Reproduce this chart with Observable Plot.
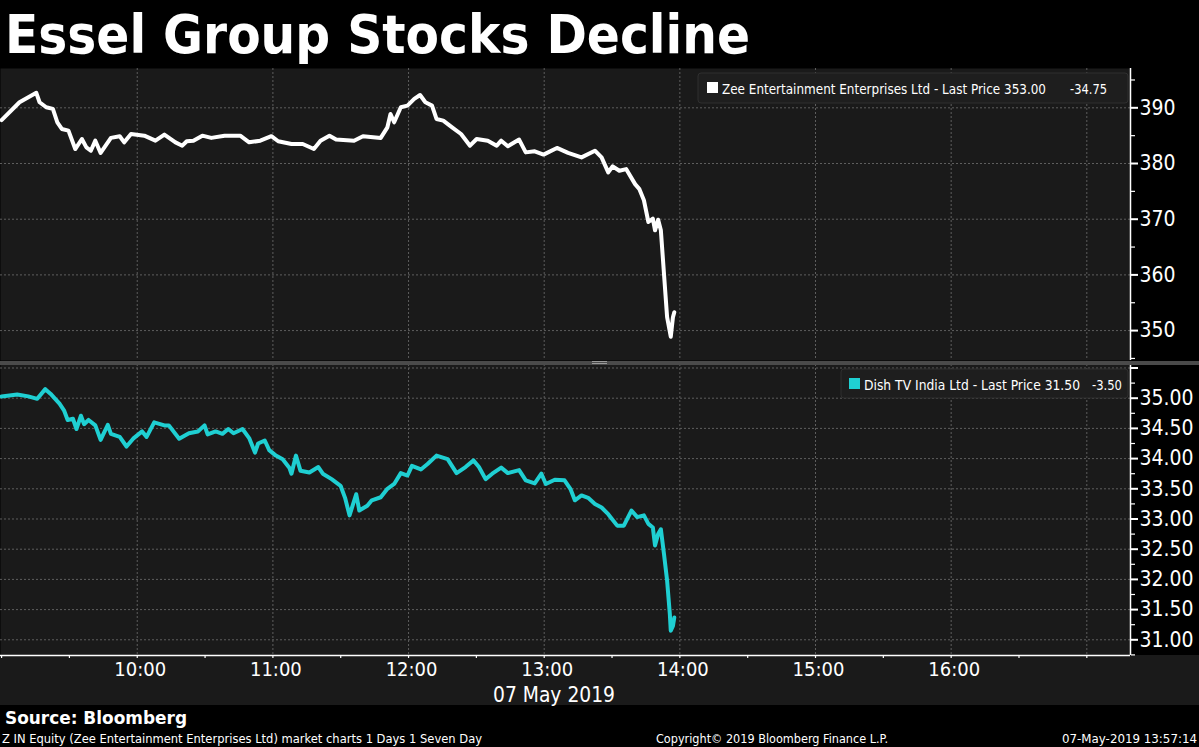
<!DOCTYPE html>
<html>
<head>
<meta charset="utf-8">
<script src="https://cdn.jsdelivr.net/npm/d3@7"></script>
<script src="https://cdn.jsdelivr.net/npm/@observablehq/plot@0.6"></script>
<style>
  html, body { margin: 0; padding: 0; background: #000; }
  #root { position: relative; width: 1199px; height: 747px; overflow: hidden; background: #000; }
  #top, #bottom { position: absolute; left: 0; }
  #top { top: 68px; }
  #bottom { top: 364px; }
  #xstrip { position: absolute; left: 0; top: 655px; width: 1199px; height: 50px; background: #1a1a1a; }
  #sep { position: absolute; left: 0; top: 360.5px; width: 1199px; height: 4px; background: #4a4a4a; }
  #handle { position: absolute; left: 592px; top: 361px; width: 15px; height: 3px; border-top: 1px solid #9a9a9a; border-bottom: 1px solid #9a9a9a; box-sizing: border-box; }
  #overlay { position: absolute; left: 0; top: 0; pointer-events: none; }
  svg { display: block; }
</style>
</head>
<body>
<div id="root">
  <div id="xstrip"></div>
  <div id="top"></div>
  <div id="bottom"></div>
  <div id="sep"></div>
  <div id="handle"></div>
  <svg id="overlay" width="1199" height="747">
    <text x="5" y="53" fill="#fff" font-family="DejaVu Sans" font-weight="bold" font-size="53" textLength="745" lengthAdjust="spacingAndGlyphs">Essel Group Stocks Decline</text>

    <rect x="698" y="73" width="430" height="30" rx="3" fill="#1e1e1e" stroke="#2f2f2f"></rect>
    <rect x="707" y="82" width="11" height="11" fill="#ffffff"></rect>
    <text x="722" y="94" fill="#fff" font-family="DejaVu Sans Condensed, DejaVu Sans" font-size="14" textLength="324" lengthAdjust="spacingAndGlyphs">Zee Entertainment Enterprises Ltd - Last Price 353.00</text>
    <text x="1070" y="94" fill="#fff" font-family="DejaVu Sans Condensed, DejaVu Sans" font-size="14" textLength="37" lengthAdjust="spacingAndGlyphs">-34.75</text>

    <rect x="841" y="369" width="287" height="29" rx="3" fill="#1e1e1e" stroke="#2f2f2f"></rect>
    <rect x="849" y="378" width="11" height="11" fill="#1fcfd2"></rect>
    <text x="864" y="390" fill="#fff" font-family="DejaVu Sans Condensed, DejaVu Sans" font-size="14" textLength="216" lengthAdjust="spacingAndGlyphs">Dish TV India Ltd - Last Price 31.50</text>
    <text x="1092" y="390" fill="#fff" font-family="DejaVu Sans Condensed, DejaVu Sans" font-size="14" textLength="30" lengthAdjust="spacingAndGlyphs">-3.50</text>

    <text x="554" y="702" fill="#fff" text-anchor="middle" font-family="DejaVu Sans Condensed, DejaVu Sans" font-size="22" textLength="122" lengthAdjust="spacingAndGlyphs">07 May 2019</text>

    <text x="5" y="724" fill="#fff" font-family="DejaVu Sans Condensed, DejaVu Sans" font-weight="bold" font-size="18" textLength="182" lengthAdjust="spacingAndGlyphs">Source: Bloomberg</text>
    <text x="2" y="743" fill="#fff" font-family="DejaVu Sans Condensed, DejaVu Sans" font-size="12" textLength="480" lengthAdjust="spacingAndGlyphs">Z IN Equity (Zee Entertainment Enterprises Ltd) market charts 1 Days 1 Seven Day</text>
    <text x="656" y="743" fill="#fff" font-family="DejaVu Sans Condensed, DejaVu Sans" font-size="12" textLength="232" lengthAdjust="spacingAndGlyphs">Copyright© 2019 Bloomberg Finance L.P.</text>
    <text x="1197" y="743" fill="#fff" text-anchor="end" font-family="DejaVu Sans Condensed, DejaVu Sans" font-size="12" textLength="135" lengthAdjust="spacingAndGlyphs">07-May-2019 13:57:14</text>
  </svg>
</div>
<script>
// ---- Data (time in decimal hours, 07 May 2019) ----
const zeeTime = [
  9.000, 9.132, 9.256, 9.280, 9.329, 9.378, 9.411, 9.444, 9.493, 9.543,
  9.592, 9.625, 9.658, 9.691, 9.730, 9.806, 9.871, 9.904, 9.954, 10.052,
  10.134, 10.200, 10.282, 10.332, 10.365, 10.414, 10.480, 10.546, 10.644, 10.759,
  10.825, 10.907, 10.989, 11.039, 11.137, 11.220, 11.302, 11.351, 11.417, 11.466,
  11.598, 11.664, 11.795, 11.844, 11.867, 11.894, 11.943, 11.992, 12.042, 12.085,
  12.124, 12.173, 12.206, 12.256, 12.321, 12.387, 12.453, 12.502, 12.584, 12.650,
  12.683, 12.732, 12.815, 12.864, 12.930, 12.995, 13.094, 13.176, 13.275, 13.374,
  13.423, 13.472, 13.505, 13.554, 13.604, 13.670, 13.702, 13.735, 13.768, 13.801,
  13.817, 13.840, 13.860, 13.883, 13.906, 13.933, 13.949, 13.959
];
const zeePrice = [
  387.8, 391.0, 392.7, 391.0, 390.1, 389.8, 387.4, 386.2, 385.9, 382.6,
  384.4, 382.9, 382.3, 384.1, 381.9, 384.6, 384.9, 383.8, 385.3, 385.0,
  384.1, 385.2, 383.8, 383.2, 384.0, 384.1, 385.0, 384.6, 385.0, 385.0,
  383.8, 384.1, 384.9, 384.0, 383.5, 383.5, 382.6, 384.1, 385.0, 384.3,
  384.1, 384.9, 384.6, 386.5, 388.9, 387.4, 390.1, 390.4, 391.6, 392.3,
  391.0, 390.4, 388.0, 387.7, 386.5, 385.3, 383.2, 384.4, 384.1, 383.2,
  384.1, 383.1, 384.3, 382.0, 382.2, 381.6, 382.8, 381.9, 381.1, 382.3,
  381.1, 378.4, 379.5, 378.7, 379.0, 376.3, 375.4, 373.4, 369.5, 370.1,
  368.0, 369.9, 368.0, 360.2, 352.4, 348.9, 352.4, 353.3
];
const dishTime = [
  9.000, 9.115, 9.197, 9.263, 9.322, 9.362, 9.395, 9.427, 9.460, 9.487,
  9.526, 9.552, 9.585, 9.608, 9.641, 9.691, 9.730, 9.783, 9.806, 9.871,
  9.921, 9.970, 10.036, 10.069, 10.125, 10.200, 10.233, 10.309, 10.381, 10.447,
  10.496, 10.519, 10.578, 10.628, 10.671, 10.710, 10.776, 10.825, 10.868, 10.891,
  10.940, 10.973, 11.022, 11.072, 11.121, 11.137, 11.170, 11.203, 11.269, 11.335,
  11.368, 11.433, 11.499, 11.532, 11.565, 11.614, 11.637, 11.696, 11.729, 11.795,
  11.844, 11.894, 11.943, 11.992, 12.025, 12.091, 12.140, 12.206, 12.288, 12.354,
  12.420, 12.479, 12.519, 12.568, 12.617, 12.683, 12.732, 12.815, 12.864, 12.930,
  12.979, 13.012, 13.078, 13.150, 13.193, 13.226, 13.275, 13.324, 13.374, 13.423,
  13.472, 13.538, 13.587, 13.643, 13.686, 13.735, 13.768, 13.801, 13.817, 13.840,
  13.860, 13.883, 13.906, 13.926, 13.933, 13.949, 13.959
];
const dishPrice = [
  35.03, 35.06, 35.03, 34.99, 35.15, 35.07, 34.99, 34.91, 34.80, 34.64,
  34.66, 34.49, 34.71, 34.57, 34.64, 34.55, 34.31, 34.56, 34.41, 34.36,
  34.20, 34.33, 34.45, 34.36, 34.60, 34.55, 34.55, 34.33, 34.42, 34.45,
  34.55, 34.40, 34.45, 34.41, 34.49, 34.42, 34.49, 34.34, 34.10, 34.25,
  34.30, 34.14, 34.05, 33.99, 33.85, 33.75, 34.05, 33.80, 33.77, 33.86,
  33.75, 33.66, 33.55, 33.35, 33.06, 33.41, 33.14, 33.22, 33.31, 33.36,
  33.50, 33.58, 33.76, 33.72, 33.88, 33.82, 33.91, 34.05, 33.99, 33.76,
  33.86, 33.97, 33.86, 33.66, 33.75, 33.85, 33.76, 33.81, 33.64, 33.59,
  33.75, 33.58, 33.65, 33.64, 33.50, 33.31, 33.39, 33.35, 33.25, 33.19,
  33.08, 32.89, 32.89, 33.14, 33.03, 33.06, 32.92, 32.86, 32.56, 32.75,
  32.83, 32.42, 31.98, 31.43, 31.15, 31.23, 31.37
];

// ---- Axes / ticks ----
const xDomain = [8.992, 17.322];
const gridHours = [10, 11, 12, 13, 14, 15, 16, 17];
const labelHours = [10, 11, 12, 13, 14, 15, 16];
const tickHalfHours = d3.range(9, 17.5, 0.5);
const zeeDomain = [344.63, 397.06];
const zeeTicks = [350, 360, 370, 380, 390];
const zeeMinor = [345, 355, 365, 375, 385, 395];
const dishDomain = [30.74, 35.558];
const dishGrid = [31, 31.5, 32, 32.5, 33, 33.5, 34, 34.5, 35, 35.5];
const dishLabels = [31, 31.5, 32, 32.5, 33, 33.5, 34, 34.5, 35];
const dishMinor = [30.75, 31.25, 31.75, 32.25, 32.75, 33.25, 33.75, 34.25, 34.75, 35.25];

const zee = zeeTime.map((t, i) => ({t, p: zeePrice[i]}));
const dish = dishTime.map((t, i) => ({t, p: dishPrice[i]}));

const FONT = "DejaVu Sans Condensed, DejaVu Sans, sans-serif";
const PANEL = "#1a1a1a";
const GRID = {stroke: "#5e5e5e", strokeOpacity: 1, strokeDasharray: "2,2", strokeWidth: 1};

const topPlot = Plot.plot({
  width: 1199, height: 292,
  marginLeft: 0, marginRight: 69, marginTop: 0, marginBottom: 0,
  style: {background: "none", color: "white", fontFamily: FONT, fontSize: "21px", overflow: "visible"},
  x: {domain: xDomain, axis: null, label: null},
  y: {domain: zeeDomain, axis: null, label: null},
  marks: [
    Plot.frame({fill: PANEL, stroke: "none"}),
    Plot.gridX(gridHours, GRID),
    Plot.gridY(zeeTicks, GRID),
    Plot.ruleX([xDomain[1]], {stroke: "white", strokeWidth: 1.5}),
    Plot.axisY(zeeMinor, {anchor: "right", label: null, tickSize: 4, tickFormat: () => "", strokeWidth: 1.2}),
    Plot.axisY(zeeTicks, {anchor: "right", label: null, tickSize: 7, tickPadding: 2, strokeWidth: 2, tickFormat: d => String(d), fontSize: 21, fill: "white"}),
    Plot.line(zee, {x: "t", y: "p", stroke: "#ffffff", strokeWidth: 4, strokeLinejoin: "round", strokeLinecap: "round"})
  ]
});
document.getElementById("top").appendChild(topPlot);

const bottomPlot = Plot.plot({
  width: 1199, height: 341,
  marginLeft: 0, marginRight: 69, marginTop: 0, marginBottom: 50,
  style: {background: "none", color: "white", fontFamily: FONT, fontSize: "21px", overflow: "visible"},
  x: {domain: xDomain, axis: null, label: null},
  y: {domain: dishDomain, axis: null, label: null},
  marks: [
    Plot.frame({fill: PANEL, stroke: "none"}),
    Plot.gridX(gridHours, GRID),
    Plot.gridY(dishGrid, GRID),
    Plot.ruleX([xDomain[1]], {stroke: "white", strokeWidth: 1.5}),
    Plot.ruleY([dishDomain[0]], {stroke: "white", strokeWidth: 1.5}),
    Plot.axisY(dishMinor, {anchor: "right", label: null, tickSize: 4, tickFormat: () => "", strokeWidth: 1.2}),
    Plot.axisY([35.5], {anchor: "right", label: null, tickSize: 7, tickFormat: () => "", strokeWidth: 2}),
    Plot.axisY(dishLabels, {anchor: "right", label: null, tickSize: 7, tickPadding: 2, strokeWidth: 2, tickFormat: d3.format(".2f"), fontSize: 21, fill: "white"}),
    Plot.axisX(tickHalfHours, {anchor: "bottom", label: null, tickSize: 3, tickFormat: () => "", strokeWidth: 1.2}),
    Plot.axisX(labelHours, {anchor: "bottom", label: null, tickSize: 0, tickPadding: 6, dx: 3, tickFormat: d => `${d}:00`, fontSize: 20, fill: "white"}),
    Plot.line(dish, {x: "t", y: "p", stroke: "#1fcfd2", strokeWidth: 4, strokeLinejoin: "round", strokeLinecap: "round"})
  ]
});
document.getElementById("bottom").appendChild(bottomPlot);
</script>
</body>
</html>
